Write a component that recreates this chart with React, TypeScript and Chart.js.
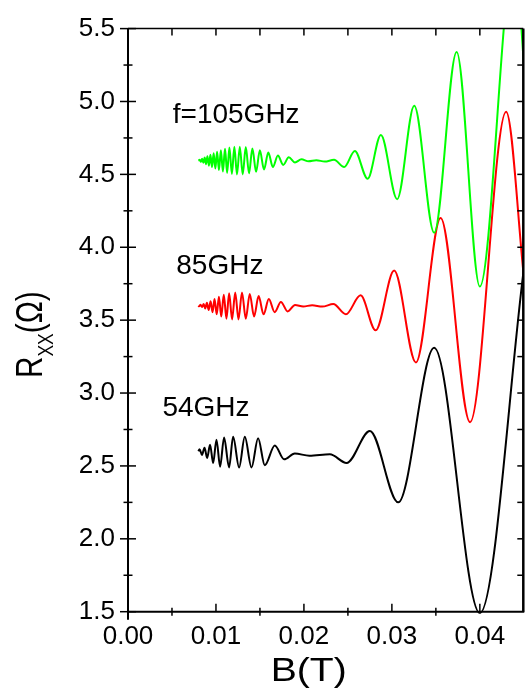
import React, { useEffect, useRef } from "react";
import { Chart, registerables } from "chart.js";

Chart.register(...registerables);

// ---------------- data ----------------
const greenB = [
  0.008, 0.00815, 0.00829, 0.00843, 0.00857, 0.00872, 0.00887, 0.00903, 0.0092, 0.00937,
  0.00955, 0.00974, 0.00993, 0.01013, 0.01034, 0.01056, 0.01079, 0.01103, 0.01127, 0.01153,
  0.01181, 0.01209, 0.01239, 0.01271, 0.01304, 0.01339, 0.01376, 0.01414, 0.01456, 0.01499,
  0.01546, 0.01595, 0.01647, 0.01704, 0.01764, 0.01828, 0.01898, 0.01972, 0.02053, 0.02141,
  0.02237, 0.02342, 0.02457, 0.02579, 0.02724, 0.02875, 0.0306, 0.03254, 0.03481, 0.03736,
  0.04, 0.0439, 0.0452,
];
const greenR = [
  4.595, 4.6, 4.587, 4.607, 4.579, 4.615, 4.57, 4.625, 4.56, 4.635,
  4.55, 4.645, 4.54, 4.655, 4.53, 4.665, 4.52, 4.675, 4.51, 4.684,
  4.503, 4.689, 4.5, 4.69, 4.5, 4.687, 4.507, 4.678, 4.518, 4.665,
  4.533, 4.65, 4.55, 4.63, 4.565, 4.617, 4.582, 4.603, 4.59, 4.597,
  4.588, 4.6, 4.55, 4.66, 4.47, 4.77, 4.33, 4.97, 4.1, 5.34,
  3.73, 6.0, 5.1,
];

const redB = [
  0.008, 0.00808, 0.00825, 0.00842, 0.0086, 0.00878, 0.00897, 0.00917, 0.00939, 0.00961,
  0.00984, 0.01008, 0.01034, 0.0106, 0.01089, 0.01119, 0.0115, 0.01183, 0.01219, 0.01256,
  0.01296, 0.01339, 0.01384, 0.01433, 0.01485, 0.01541, 0.01601, 0.01667, 0.01738, 0.01815,
  0.01899, 0.01992, 0.02094, 0.02208, 0.02334, 0.02477, 0.02644, 0.02815, 0.03026, 0.03273,
  0.03554, 0.03889, 0.04299, 0.045,
];
const redR = [
  3.6, 3.595, 3.605, 3.59, 3.61, 3.58, 3.62, 3.57, 3.63, 3.555,
  3.645, 3.54, 3.66, 3.525, 3.675, 3.51, 3.685, 3.505, 3.69, 3.505,
  3.69, 3.51, 3.68, 3.525, 3.665, 3.54, 3.645, 3.555, 3.625, 3.56,
  3.604, 3.594, 3.602, 3.593, 3.61, 3.54, 3.67, 3.43, 3.84, 3.21,
  4.2, 2.8, 4.93, 3.8,
];

const blackB = [
  0.008, 0.00814, 0.00841, 0.0087, 0.009, 0.00933, 0.00968, 0.01006, 0.01047, 0.01092,
  0.01149, 0.01195, 0.01263, 0.01328, 0.01404, 0.01479, 0.01555, 0.01669, 0.01775, 0.01896,
  0.02062, 0.02295, 0.02485, 0.0275, 0.03072, 0.03481, 0.04, 0.045,
];
const blackR = [
  2.6, 2.615, 2.575, 2.625, 2.555, 2.645, 2.52, 2.68, 2.495, 2.695,
  2.49, 2.7, 2.49, 2.7, 2.49, 2.69, 2.505, 2.64, 2.545, 2.585,
  2.57, 2.58, 2.52, 2.74, 2.25, 3.31, 1.49, 3.85,
];

const xTickValues = [0, 0.01, 0.02, 0.03, 0.04];
const xMinorValues = [0.005, 0.015, 0.025, 0.035];
const yTickValues = [1.5, 2.0, 2.5, 3.0, 3.5, 4.0, 4.5, 5.0, 5.5];
const yMinorValues = [1.75, 2.25, 2.75, 3.25, 3.75, 4.25, 4.75, 5.25];
const seriesLabels = ["f=105GHz", "85GHz", "54GHz"];
const xTitle = "B(T)";
const yTitleMain = "R";
const yTitleSub = "XX";
const yTitleUnit = "(\u03A9)";

// ---------------- layout / style ----------------
const X_MIN = 0;
const X_MAX = 0.04494;
const Y_MIN = 1.5;
const Y_MAX = 5.5;
const FONT = "'Liberation Sans', Arial, Helvetica, sans-serif";
const COLORS = ["#00ff00", "#ff0000", "#000000"];
const labelAnchors = [
  { x: 0.00509, y: 4.851 },
  { x: 0.00549, y: 3.816 },
  { x: 0.00391, y: 2.84 },
];

const toPoints = (xs: number[], ys: number[]) => xs.map((x, i) => ({ x, y: ys[i] }));

const framePlugin = {
  id: "framePlugin",
  afterDatasetsDraw(chart: any) {
    const { ctx, chartArea: a, scales } = chart;
    const xs = scales.x;
    const ys = scales.y;
    const seg = (x1: number, y1: number, x2: number, y2: number) => {
      ctx.beginPath();
      ctx.moveTo(x1, y1);
      ctx.lineTo(x2, y2);
      ctx.stroke();
    };
    ctx.save();
    ctx.strokeStyle = "#000";
    ctx.lineCap = "butt";

    // frame
    ctx.lineWidth = 1.5;
    seg(a.left, a.top, a.right, a.top);
    ctx.lineWidth = 2.5;
    seg(a.right, a.top, a.right, a.bottom);
    ctx.lineWidth = 2;
    seg(a.left, a.top, a.left, a.bottom + 8);
    seg(a.left, a.bottom, a.right + 1, a.bottom);

    // left ticks (crossing)
    ctx.lineWidth = 1.5;
    yTickValues.forEach((v) => {
      const p = ys.getPixelForValue(v);
      seg(a.left - 8, p, a.left + 8, p);
    });
    yMinorValues.forEach((v) => {
      const p = ys.getPixelForValue(v);
      seg(a.left - 4.5, p, a.left + 4.5, p);
    });
    // right ticks (inward)
    [...yTickValues, ...yMinorValues].forEach((v) => {
      if (v <= Y_MIN || v >= Y_MAX) return;
      const p = ys.getPixelForValue(v);
      seg(a.right - 6, p, a.right, p);
    });
    // bottom ticks
    xTickValues.forEach((v) => {
      if (v <= X_MIN) return;
      const p = xs.getPixelForValue(v);
      seg(p, a.bottom, p, a.bottom - 8);
    });
    xMinorValues.forEach((v) => {
      const p = xs.getPixelForValue(v);
      seg(p, a.bottom + 4, p, a.bottom - 4);
    });
    // top ticks (inward)
    [...xTickValues, ...xMinorValues].forEach((v) => {
      if (v <= X_MIN) return;
      const p = xs.getPixelForValue(v);
      seg(p, a.top, p, a.top + 7);
    });

    ctx.fillStyle = "#000";
    ctx.textBaseline = "alphabetic";
    ctx.textAlign = "left";

    // series annotations
    ctx.font = `28px ${FONT}`;
    seriesLabels.forEach((t, i) => {
      ctx.fillText(t, xs.getPixelForValue(labelAnchors[i].x), ys.getPixelForValue(labelAnchors[i].y));
    });

    // x title
    ctx.font = `34px ${FONT}`;
    const sx = 1.15;
    const w = ctx.measureText(xTitle).width * sx;
    ctx.save();
    ctx.translate((a.left + a.right) / 2 - w / 2 - 17, 681);
    ctx.scale(sx, 1);
    ctx.fillText(xTitle, 0, 0);
    ctx.restore();

    // y title (rotated, with subscript)
    ctx.save();
    ctx.translate(42, 378);
    ctx.rotate(-Math.PI / 2);
    ctx.scale(0.8, 1);
    ctx.font = `37px ${FONT}`;
    ctx.fillText(yTitleMain, 0, 0);
    let off = ctx.measureText(yTitleMain).width;
    ctx.font = `22px ${FONT}`;
    ctx.fillText(yTitleSub, off, 11);
    off += ctx.measureText(yTitleSub).width;
    ctx.font = `37px ${FONT}`;
    ctx.fillText(yTitleUnit, off, 0);
    ctx.restore();

    ctx.restore();
  },
};

export default function App() {
  const canvasRef = useRef<HTMLCanvasElement | null>(null);

  useEffect(() => {
    if (!canvasRef.current) return;
    const common = {
      borderWidth: 2,
      pointRadius: 0,
      fill: false,
      cubicInterpolationMode: "monotone" as const,
      capBezierPoints: false,
      clip: { left: 0, top: 0, right: 0, bottom: 2 },
    };
    const chart = new Chart(canvasRef.current, {
      type: "line",
      data: {
        datasets: [
          { ...common, label: seriesLabels[0], data: toPoints(greenB, greenR), borderColor: COLORS[0] },
          { ...common, label: seriesLabels[1], data: toPoints(redB, redR), borderColor: COLORS[1] },
          { ...common, label: seriesLabels[2], data: toPoints(blackB, blackR), borderColor: COLORS[2] },
        ],
      },
      options: {
        responsive: false,
        animation: false,
        devicePixelRatio: 1,
        layout: { padding: { top: 19, right: 1.7, left: 0, bottom: 0 } },
        plugins: { legend: { display: false }, tooltip: { enabled: false } },
        elements: { point: { radius: 0 } },
        scales: {
          x: {
            type: "linear",
            min: X_MIN,
            max: X_MAX,
            grid: { display: false, drawTicks: false },
            border: { display: false },
            afterBuildTicks: (s: any) => {
              s.ticks = xTickValues.map((v) => ({ value: v }));
            },
            afterFit: (s: any) => {
              s.height = 83.3;
            },
            ticks: {
              callback: (v: any) => Number(v).toFixed(2),
              font: { family: FONT, size: 26 },
              color: "#000",
              padding: 10,
              maxRotation: 0,
              autoSkip: false,
            },
          },
          y: {
            type: "linear",
            min: Y_MIN,
            max: Y_MAX,
            grid: { display: false, drawTicks: false },
            border: { display: false },
            afterBuildTicks: (s: any) => {
              s.ticks = yTickValues.map((v) => ({ value: v }));
            },
            afterFit: (s: any) => {
              s.width = 128;
            },
            ticks: {
              callback: (v: any) => Number(v).toFixed(1),
              font: { family: FONT, size: 26 },
              color: "#000",
              padding: 13,
              autoSkip: false,
            },
          },
        },
      },
      plugins: [framePlugin],
    } as any);
    return () => chart.destroy();
  }, []);

  return (
    <div style={{ position: "absolute", left: 0, top: 0, width: 525, height: 695, background: "#fff" }}>
      <canvas ref={canvasRef} width={525} height={695} style={{ display: "block" }} />
    </div>
  );
}
